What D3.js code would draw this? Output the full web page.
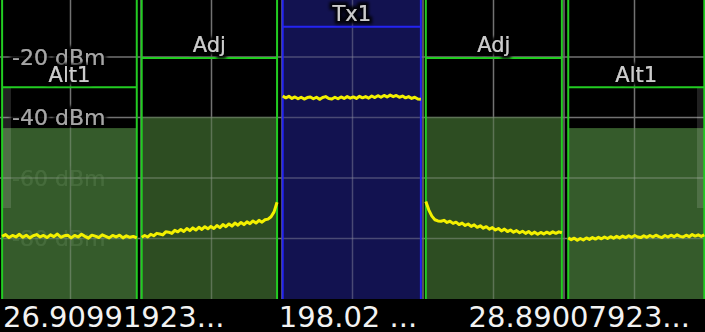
<!DOCTYPE html>
<html><head><meta charset="utf-8">
<script src="https://cdn.jsdelivr.net/npm/d3@7"></script>
<style>html,body{margin:0;padding:0;background:#000;}svg{display:block;}</style>
</head><body>
<script>
// ---------- data ----------
const channelNames = ["Alt1", "Adj", "Tx1", "Adj", "Alt1"];
const channelStart = [-4.97, -2.99, -0.99, 1.04, 3.06];   // x in divisions
const channelEnd   = [-3.06, -1.07, 0.97, 2.97, 4.99];
const channelLimit = [-30, -20.3, -10, -20.3, -30];        // dBm
const channelPower = [-43.5, -39.8, 0, -39.8, -43.5];      // dBm (fill top)
const channelKind  = ["alt", "adj", "tx", "adj", "alt"];

const yTicks = [-20, -40, -60, -80];
const yTickLabels = ["-20 dBm", "-40 dBm", "-60 dBm", "-80 dBm"];
const xGrid = [-4, -3, -2, -1, 0, 1, 2, 3, 4];
const bottomLabels = ["26.90991923...", "198.02 ...", "28.89007923..."];

const traceAlt1L = [-79.3,-78.7,-79.7,-79.0,-79.5,-78.6,-79.6,-78.9,-79.8,-79.1,-78.7,-79.5,-79.0,-79.7,-78.8,-79.4,-78.5,-79.6,-79.1,-78.9,-79.8,-79.0,-79.5,-78.6,-79.3,-79.9,-78.9,-79.2,-79.7,-78.8,-79.3,-79.8,-79.0,-79.5,-78.9,-79.8,-79.1,-79.6,-79.3,-79.8];
const traceAdjL = [-79.6,-79.0,-79.5,-78.6,-79.1,-78.3,-78.5,-78.8,-77.8,-77.9,-78.3,-77.3,-77.8,-77.0,-77.7,-76.7,-77.4,-76.5,-77.2,-76.3,-77.0,-76.1,-76.8,-76.0,-76.7,-75.7,-76.4,-75.4,-76.1,-75.2,-75.9,-74.9,-75.6,-74.7,-75.4,-74.5,-75.1,-74.2,-74.9,-74.0,-74.6,-73.8,-73.6,-72.8,-71.2,-68.0];
const traceTx1 = [-32.9,-33.5,-33.0,-33.7,-33.2,-33.8,-33.3,-33.9,-33.4,-33.2,-33.8,-33.3,-34.0,-33.4,-33.1,-33.7,-33.9,-33.3,-33.8,-33.2,-33.7,-33.1,-33.6,-33.2,-33.7,-33.0,-33.5,-33.1,-33.6,-32.9,-33.4,-32.8,-33.3,-32.7,-33.2,-32.6,-33.1,-32.7,-33.3,-32.9,-33.5,-33.1,-33.7,-33.3,-33.9,-34.0];
const traceAdjR = [-67.8,-70.6,-72.6,-73.8,-74.2,-74.3,-74.0,-74.7,-74.3,-75.0,-74.6,-75.4,-74.9,-75.7,-75.2,-76.0,-75.5,-76.3,-75.8,-76.6,-76.1,-76.9,-76.4,-77.2,-76.7,-77.5,-76.9,-77.7,-77.2,-77.9,-77.4,-78.1,-77.6,-78.3,-77.7,-78.5,-77.9,-78.6,-78.0,-78.5,-77.9,-78.4,-77.8,-78.3,-77.8,-78.1];
const traceAlt1R = [-79.8,-80.4,-79.9,-80.6,-80.0,-80.5,-79.8,-80.3,-79.7,-80.2,-79.6,-80.1,-79.5,-80.0,-79.4,-79.9,-79.3,-79.8,-79.2,-79.7,-79.1,-79.6,-79.0,-79.5,-79.7,-79.1,-79.6,-79.0,-79.5,-78.9,-79.4,-79.7,-79.0,-79.5,-78.9,-79.4,-78.8,-79.3,-79.5,-78.9,-79.4,-78.7,-79.2,-78.8,-79.3,-78.8];
const traces = [traceAlt1L, traceAdjL, traceTx1, traceAdjR, traceAlt1R];

// ---------- chart ----------
const W = 705, H = 332;
const x = d3.scaleLinear().domain([-5, 5]).range([0, 705]);
const y = d3.scaleLinear().domain([0, -100]).range([-3.5, 299]);

const fillColor = {alt: "#3b6530", adj: "#325526", tx: "#141459"};
const lineColor = {alt: "#22cc22", adj: "#22cc22", tx: "#2424f2"};

const svg = d3.select("body").append("svg").attr("width", W).attr("height", H)
  .style("font-family", "'DejaVu Sans', Verdana, sans-serif");
svg.append("rect").attr("width", W).attr("height", H).attr("fill", "#000");

const defs = svg.append("defs");
const halo = defs.append("filter").attr("id", "halo").attr("x", "-20%").attr("y", "-40%").attr("width", "140%").attr("height", "180%");
halo.append("feMorphology").attr("in", "SourceAlpha").attr("operator", "dilate").attr("radius", 2.5).attr("result", "d");
halo.append("feGaussianBlur").attr("in", "d").attr("stdDeviation", 1.8).attr("result", "b");
halo.append("feFlood").attr("flood-color", "#000").attr("flood-opacity", 0.9).attr("result", "f");
halo.append("feComposite").attr("in", "f").attr("in2", "b").attr("operator", "in").attr("result", "s");
const hm = halo.append("feMerge");
hm.append("feMergeNode").attr("in", "s");
hm.append("feMergeNode").attr("in", "SourceGraphic");

const idx = d3.range(channelNames.length);
const clip = defs.append("clipPath").attr("id", "fillclip");
clip.selectAll("rect").data(idx).join("rect")
  .attr("x", i => x(channelStart[i])).attr("width", i => x(channelEnd[i]) - x(channelStart[i]))
  .attr("y", i => y(channelPower[i])).attr("height", i => y(-100) - y(channelPower[i]));

function grid(g, color, op, width) {
  g.selectAll("line.h").data(yTicks).join("line").attr("class", "h")
    .attr("x1", 0).attr("x2", W).attr("y1", d => y(d)).attr("y2", d => y(d))
    .attr("stroke", color).attr("stroke-opacity", op).attr("stroke-width", width);
  g.selectAll("line.v").data(xGrid).join("line").attr("class", "v")
    .attr("x1", d => x(d)).attr("x2", d => x(d)).attr("y1", 0).attr("y2", y(-100))
    .attr("stroke", color).attr("stroke-opacity", op).attr("stroke-width", width);
}
grid(svg.append("g"), "#727272", 1, 1.5);

// y labels
svg.append("g").selectAll("text").data(yTicks).join("text")
  .attr("x", 12).attr("y", d => y(d)).attr("dy", "0.36em")
  .attr("fill", "#a6a6a6").attr("font-size", 22).attr("filter", "url(#halo)")
  .text((d, i) => yTickLabels[i]);

// channel fills
svg.append("g").selectAll("rect").data(idx).join("rect")
  .attr("x", i => x(channelStart[i])).attr("width", i => x(channelEnd[i]) - x(channelStart[i]))
  .attr("y", i => y(channelPower[i])).attr("height", i => y(-100) - y(channelPower[i]))
  .attr("fill", i => fillColor[channelKind[i]]).attr("fill-opacity", 0.9);

grid(svg.append("g").attr("clip-path", "url(#fillclip)"), "#b4b4b4", 0.3, 1.5);

// side stripes
svg.append("rect").attr("x", 2).attr("y", 87).attr("width", 9).attr("height", 121).attr("fill", "#fff").attr("fill-opacity", 0.13);
svg.append("rect").attr("x", 697).attr("y", 87).attr("width", 7).attr("height", 121).attr("fill", "#fff").attr("fill-opacity", 0.13);

// channel borders
const ch = svg.append("g");
idx.forEach(i => {
  const c = lineColor[channelKind[i]];
  const x0 = x(channelStart[i]), x1 = x(channelEnd[i]);
  ch.append("line").attr("x1", x0).attr("x2", x0).attr("y1", 0).attr("y2", y(-100)).attr("stroke", c).attr("stroke-width", 2);
  ch.append("line").attr("x1", x1).attr("x2", x1).attr("y1", 0).attr("y2", y(-100)).attr("stroke", c).attr("stroke-width", 2);
  ch.append("line").attr("x1", x0).attr("x2", x1).attr("y1", y(channelLimit[i])).attr("y2", y(channelLimit[i])).attr("stroke", c).attr("stroke-width", 2);
});

// trace
const line = d3.line().x(d => x(d[0])).y(d => y(d[1]));
idx.forEach(i => {
  const vals = traces[i];
  const n = vals.length;
  const pts = vals.map((v, j) => [channelStart[i] + j * (channelEnd[i] - channelStart[i]) / (n - 1), v]);
  svg.append("path").attr("d", line(pts)).attr("fill", "none")
    .attr("stroke", "#f2f000").attr("stroke-width", 3).attr("stroke-linejoin", "round");
});

// channel labels
svg.append("g").selectAll("text").data(idx).join("text")
  .attr("x", i => (x(channelStart[i]) + x(channelEnd[i])) / 2)
  .attr("y", i => y(channelLimit[i]) - 13).attr("dy", "0.36em")
  .attr("text-anchor", "middle").attr("fill", "#cccccc").attr("font-size", 21)
  .attr("filter", "url(#halo)")
  .text(i => channelNames[i]);

// bottom bar
svg.append("rect").attr("x", 0).attr("y", 300).attr("width", W).attr("height", 32).attr("fill", "#000");
const bx = [3, 348, 690], ba = ["start", "middle", "end"];
svg.append("g").selectAll("text").data(bottomLabels).join("text")
  .attr("x", (d, i) => bx[i]).attr("y", 327).attr("text-anchor", (d, i) => ba[i])
  .attr("fill", "#f2f2f2").attr("font-size", 29).text(d => d);
</script>
</body></html>
